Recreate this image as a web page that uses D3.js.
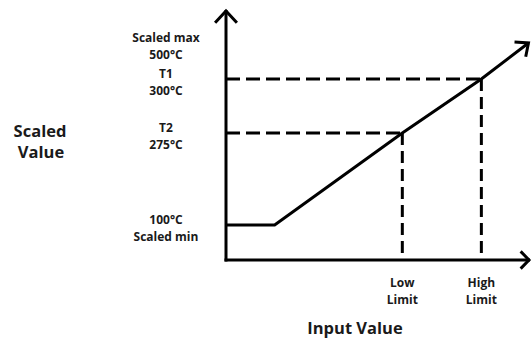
<!DOCTYPE html>
<html>
<head>
<meta charset="utf-8">
<script src="https://cdn.jsdelivr.net/npm/d3@7"></script>
<style>
  html, body { margin: 0; padding: 0; background: #fff; }
  svg { display: block; }
  text { font-family: "Open Sans", Lato, sans-serif; font-weight: bold; fill: #1a1a1a; }
</style>
</head>
<body>
<svg id="chart" width="532" height="341"></svg>
<script>
// ---- data ----
// Scaled levels (°C) and their two-line labels
const levels = [500, 300, 275, 100];
const levelLine1 = ["Scaled max", "T1", "T2", "100°C"];
const levelLine2 = ["500°C", "300°C", "275°C", "Scaled min"];
// Input positions (schematic units 0..100)
const inputLimits = [58, 84];
const inputLine1 = ["Low", "High"];
const inputLine2 = ["Limit", "Limit"];
// Scaling curve: input -> scaled value
const curveInput = [0, 16, 58, 84, 99.5];
const curveScaled = [100, 100, 275, 300, 500];
// dashed reference levels (T2 -> Low Limit, T1 -> High Limit)
const refScaled = [275, 300];

const svg = d3.select("#chart");

const x = d3.scaleLinear().domain([0, 100]).range([226, 530]);
const y = d3.scaleLinear().domain([100, 275, 300, 500]).range([225, 133, 79, 43]);
const yBottom = 260, yTop = 10;

const black = "#000";

// dashed guide lines
refScaled.forEach((v, i) => {
  svg.append("line")
    .attr("x1", x(0)).attr("x2", x(inputLimits[i]))
    .attr("y1", y(v)).attr("y2", y(v))
    .attr("stroke", black).attr("stroke-width", 3)
    .attr("stroke-dasharray", "14,6");
  svg.append("line")
    .attr("x1", x(inputLimits[i])).attr("x2", x(inputLimits[i]))
    .attr("y1", y(v)).attr("y2", yBottom)
    .attr("stroke", black).attr("stroke-width", 3)
    .attr("stroke-dasharray", "12,6");
});

// axes
svg.append("line").attr("x1", x(0)).attr("x2", x(0)).attr("y1", yBottom + 1.5).attr("y2", yTop)
  .attr("stroke", black).attr("stroke-width", 3);
svg.append("line").attr("x1", x(0) - 1.5).attr("x2", x(100)).attr("y1", yBottom).attr("y2", yBottom)
  .attr("stroke", black).attr("stroke-width", 3);

function arrowHead(tx, ty, ang, len, half) {
  const a1 = ang + Math.PI - half, a2 = ang + Math.PI + half;
  const p = d3.path();
  p.moveTo(tx + len * Math.cos(a1), ty + len * Math.sin(a1));
  p.lineTo(tx, ty);
  p.lineTo(tx + len * Math.cos(a2), ty + len * Math.sin(a2));
  svg.append("path").attr("d", p.toString()).attr("fill", "none")
    .attr("stroke", black).attr("stroke-width", 3)
    .attr("stroke-linejoin", "miter").attr("stroke-linecap", "butt");
}
arrowHead(x(0), yTop + 1, -Math.PI / 2, 16, 0.75);
arrowHead(x(100) - 1, yBottom, 0, 12, 0.8);

// scaling curve
const pts = curveInput.map((v, i) => [x(v), y(curveScaled[i])]);
svg.append("path")
  .attr("d", d3.line()(pts))
  .attr("fill", "none").attr("stroke", black).attr("stroke-width", 3)
  .attr("stroke-linejoin", "miter");
const last = pts[pts.length - 1], prev = pts[pts.length - 2];
arrowHead(last[0], last[1], Math.atan2(last[1] - prev[1], last[0] - prev[0]), 14, 0.72);

// level labels
const lx = 166;
levels.forEach((v, i) => {
  svg.append("text").attr("x", lx).attr("y", y(v) - 1)
    .attr("text-anchor", "middle").attr("font-size", 12).text(levelLine1[i]);
  svg.append("text").attr("x", lx).attr("y", y(v) + 16)
    .attr("text-anchor", "middle").attr("font-size", 12).text(levelLine2[i]);
});

// input labels
inputLimits.forEach((v, i) => {
  svg.append("text").attr("x", x(v)).attr("y", 287)
    .attr("text-anchor", "middle").attr("font-size", 12).text(inputLine1[i]);
  svg.append("text").attr("x", x(v)).attr("y", 304)
    .attr("text-anchor", "middle").attr("font-size", 12).text(inputLine2[i]);
});

// axis titles
svg.append("text").attr("x", 40).attr("y", 137).attr("text-anchor", "middle")
  .attr("font-size", 16.5).text("Scaled");
svg.append("text").attr("x", 41).attr("y", 158).attr("text-anchor", "middle")
  .attr("font-size", 16.5).text("Value");
svg.append("text").attr("x", 355).attr("y", 334).attr("text-anchor", "middle")
  .attr("font-size", 16.5).text("Input Value");
</script>
</body>
</html>
